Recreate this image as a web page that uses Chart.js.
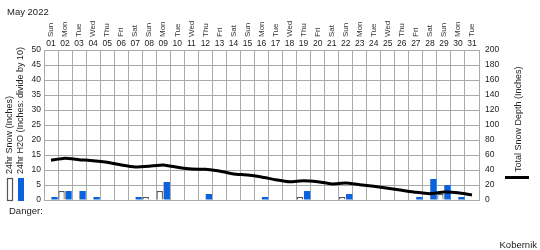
<!DOCTYPE html>
<html><head><meta charset="utf-8">
<script src="https://cdn.jsdelivr.net/npm/chart.js@4/dist/chart.umd.min.js"></script>
<style>html,body{margin:0;padding:0;background:#fff}#wrap{width:540px;height:250px;position:relative}</style>
</head><body><div id="wrap"><canvas id="c" width="540" height="250"></canvas></div>
<script>
const days = ['01','02','03','04','05','06','07','08','09','10','11','12','13','14','15','16','17','18','19','20','21','22','23','24','25','26','27','28','29','30','31'];
const weekdays = ['Sun','Mon','Tue','Wed','Thu','Fri','Sat','Sun','Mon','Tue','Wed','Thu','Fri','Sat','Sun','Mon','Tue','Wed','Thu','Fri','Sat','Sun','Mon','Tue','Wed','Thu','Fri','Sat','Sun','Mon','Tue'];
const snow24 = [0,3,0,0,0,0,0,1,3,0,0,0,0,0,0,0,0,0,1,0,0,1,0,0,0,0,0,0,2,0,0];
const h2o24 = [1,3,3,1,0,0,1,0,6,0,0,2,0,0,0,1,0,0,3,0,0,2,0,0,0,0,1,7,5,1,0];
const depth = [53,55.6,53.8,52.4,50.2,46.7,44,45,46.7,43.6,41.3,41,38.7,34.7,33.3,30.7,27.1,24.4,25.8,24.4,21.5,22.7,20.4,18.2,15.6,12.9,10.2,8.4,10.7,9.8,6.7];
const leftTicks = {min:0, max:50, step:5};
const rightTicks = {min:0, max:200, step:20};

Chart.defaults.font.family = "'Liberation Sans', Arial, sans-serif";
Chart.defaults.color = '#222';

const textPlugin = {
  id: 'extraText',
  afterDraw(chart) {
    const ctx = chart.ctx;
    const xs = chart.scales.x;
    ctx.save();
    ctx.fillStyle = '#222';
    ctx.font = "9.5px 'Liberation Sans', Arial";
    ctx.textBaseline = 'middle';
    ctx.textAlign = 'left';
    ctx.fillText('May 2022', 7, 12);
    ctx.fillText('Danger:', 9, 211);
    ctx.textAlign = 'right';
    ctx.fillText('Kobernik', 537, 245);
    // weekday labels
    ctx.font = "8px 'Liberation Sans', Arial";
    ctx.fillStyle = '#333';
    weekdays.forEach((w, i) => {
      const x = xs.getPixelForValue(i);
      ctx.save();
      ctx.translate(x, 37);
      ctx.rotate(-Math.PI / 2);
      ctx.textAlign = 'left';
      ctx.textBaseline = 'middle';
      ctx.fillText(w, 0, 0);
      ctx.restore();
    });
    // legends
    ctx.font = "9px 'Liberation Sans', Arial";
    ctx.fillStyle = '#222';
    const rot = (t, x, y) => {
      ctx.save(); ctx.translate(x, y); ctx.rotate(-Math.PI / 2);
      ctx.textAlign = 'left'; ctx.textBaseline = 'middle'; ctx.fillText(t, 0, 0); ctx.restore();
    };
    rot('24hr Snow (Inches)', 10, 174);
    rot('24hr H2O (Inches: divide by 10)', 21, 174);
    rot('Total Snow Depth (Inches)', 519, 172);
    ctx.fillStyle = '#fff';
    ctx.strokeStyle = '#555';
    ctx.lineWidth = 1.2;
    ctx.fillRect(7.5, 178.5, 5, 22);
    ctx.strokeRect(7.5, 178.5, 5, 22);
    ctx.fillStyle = '#0a62dc';
    ctx.fillRect(18, 178, 6, 23);
    ctx.strokeStyle = '#000';
    ctx.lineWidth = 3;
    ctx.beginPath(); ctx.moveTo(505, 177.5); ctx.lineTo(529, 177.5); ctx.stroke();
    ctx.restore();
  }
};

new Chart(document.getElementById('c'), {
  type: 'bar',
  data: {
    labels: days,
    datasets: [
      {label:'24hr Snow', data: snow24, backgroundColor:'#fff', borderColor:'#555', borderWidth:1.2, borderSkipped:'start', yAxisID:'y', order:1, barPercentage:0.9, categoryPercentage:1.0},
      {label:'24hr H2O', data: h2o24, backgroundColor:'#0a62dc', borderWidth:0, yAxisID:'y', order:2, barPercentage:0.9, categoryPercentage:1.0},
      {type:'line', label:'Total Snow Depth', data: depth, borderColor:'#000', borderWidth:3, pointRadius:0, tension:0.15, yAxisID:'y2', order:0, fill:false}
    ]
  },
  options: {
    responsive:false, animation:false,
    layout:{padding:{top:0,left:0,right:0,bottom:50}},
    plugins:{legend:{display:false}, tooltip:{enabled:false}},
    scales:{
      x:{position:'top', offset:true,
         grid:{offset:true, color:'#aaa', drawTicks:false},
         border:{color:'#aaa'},
         ticks:{padding:1, maxRotation:0, autoSkip:false, font:{size:8.5}, color:'#222'},
         afterFit(s){ s.height = 50; }},
      y:{position:'left', min:leftTicks.min, max:leftTicks.max,
         ticks:{stepSize:leftTicks.step, padding:3, font:{size:8.5}, color:'#222'},
         grid:{color:'#aaa', drawTicks:false}, border:{color:'#aaa'},
         afterFit(s){ s.width = 44; }},
      y2:{position:'right', min:rightTicks.min, max:rightTicks.max,
         ticks:{stepSize:rightTicks.step, padding:6, font:{size:8.5}, color:'#222'},
         grid:{display:false, drawTicks:false}, border:{color:'#aaa'},
         afterFit(s){ s.width = 61; }}
    }
  },
  plugins:[textPlugin]
});
</script></body></html>
